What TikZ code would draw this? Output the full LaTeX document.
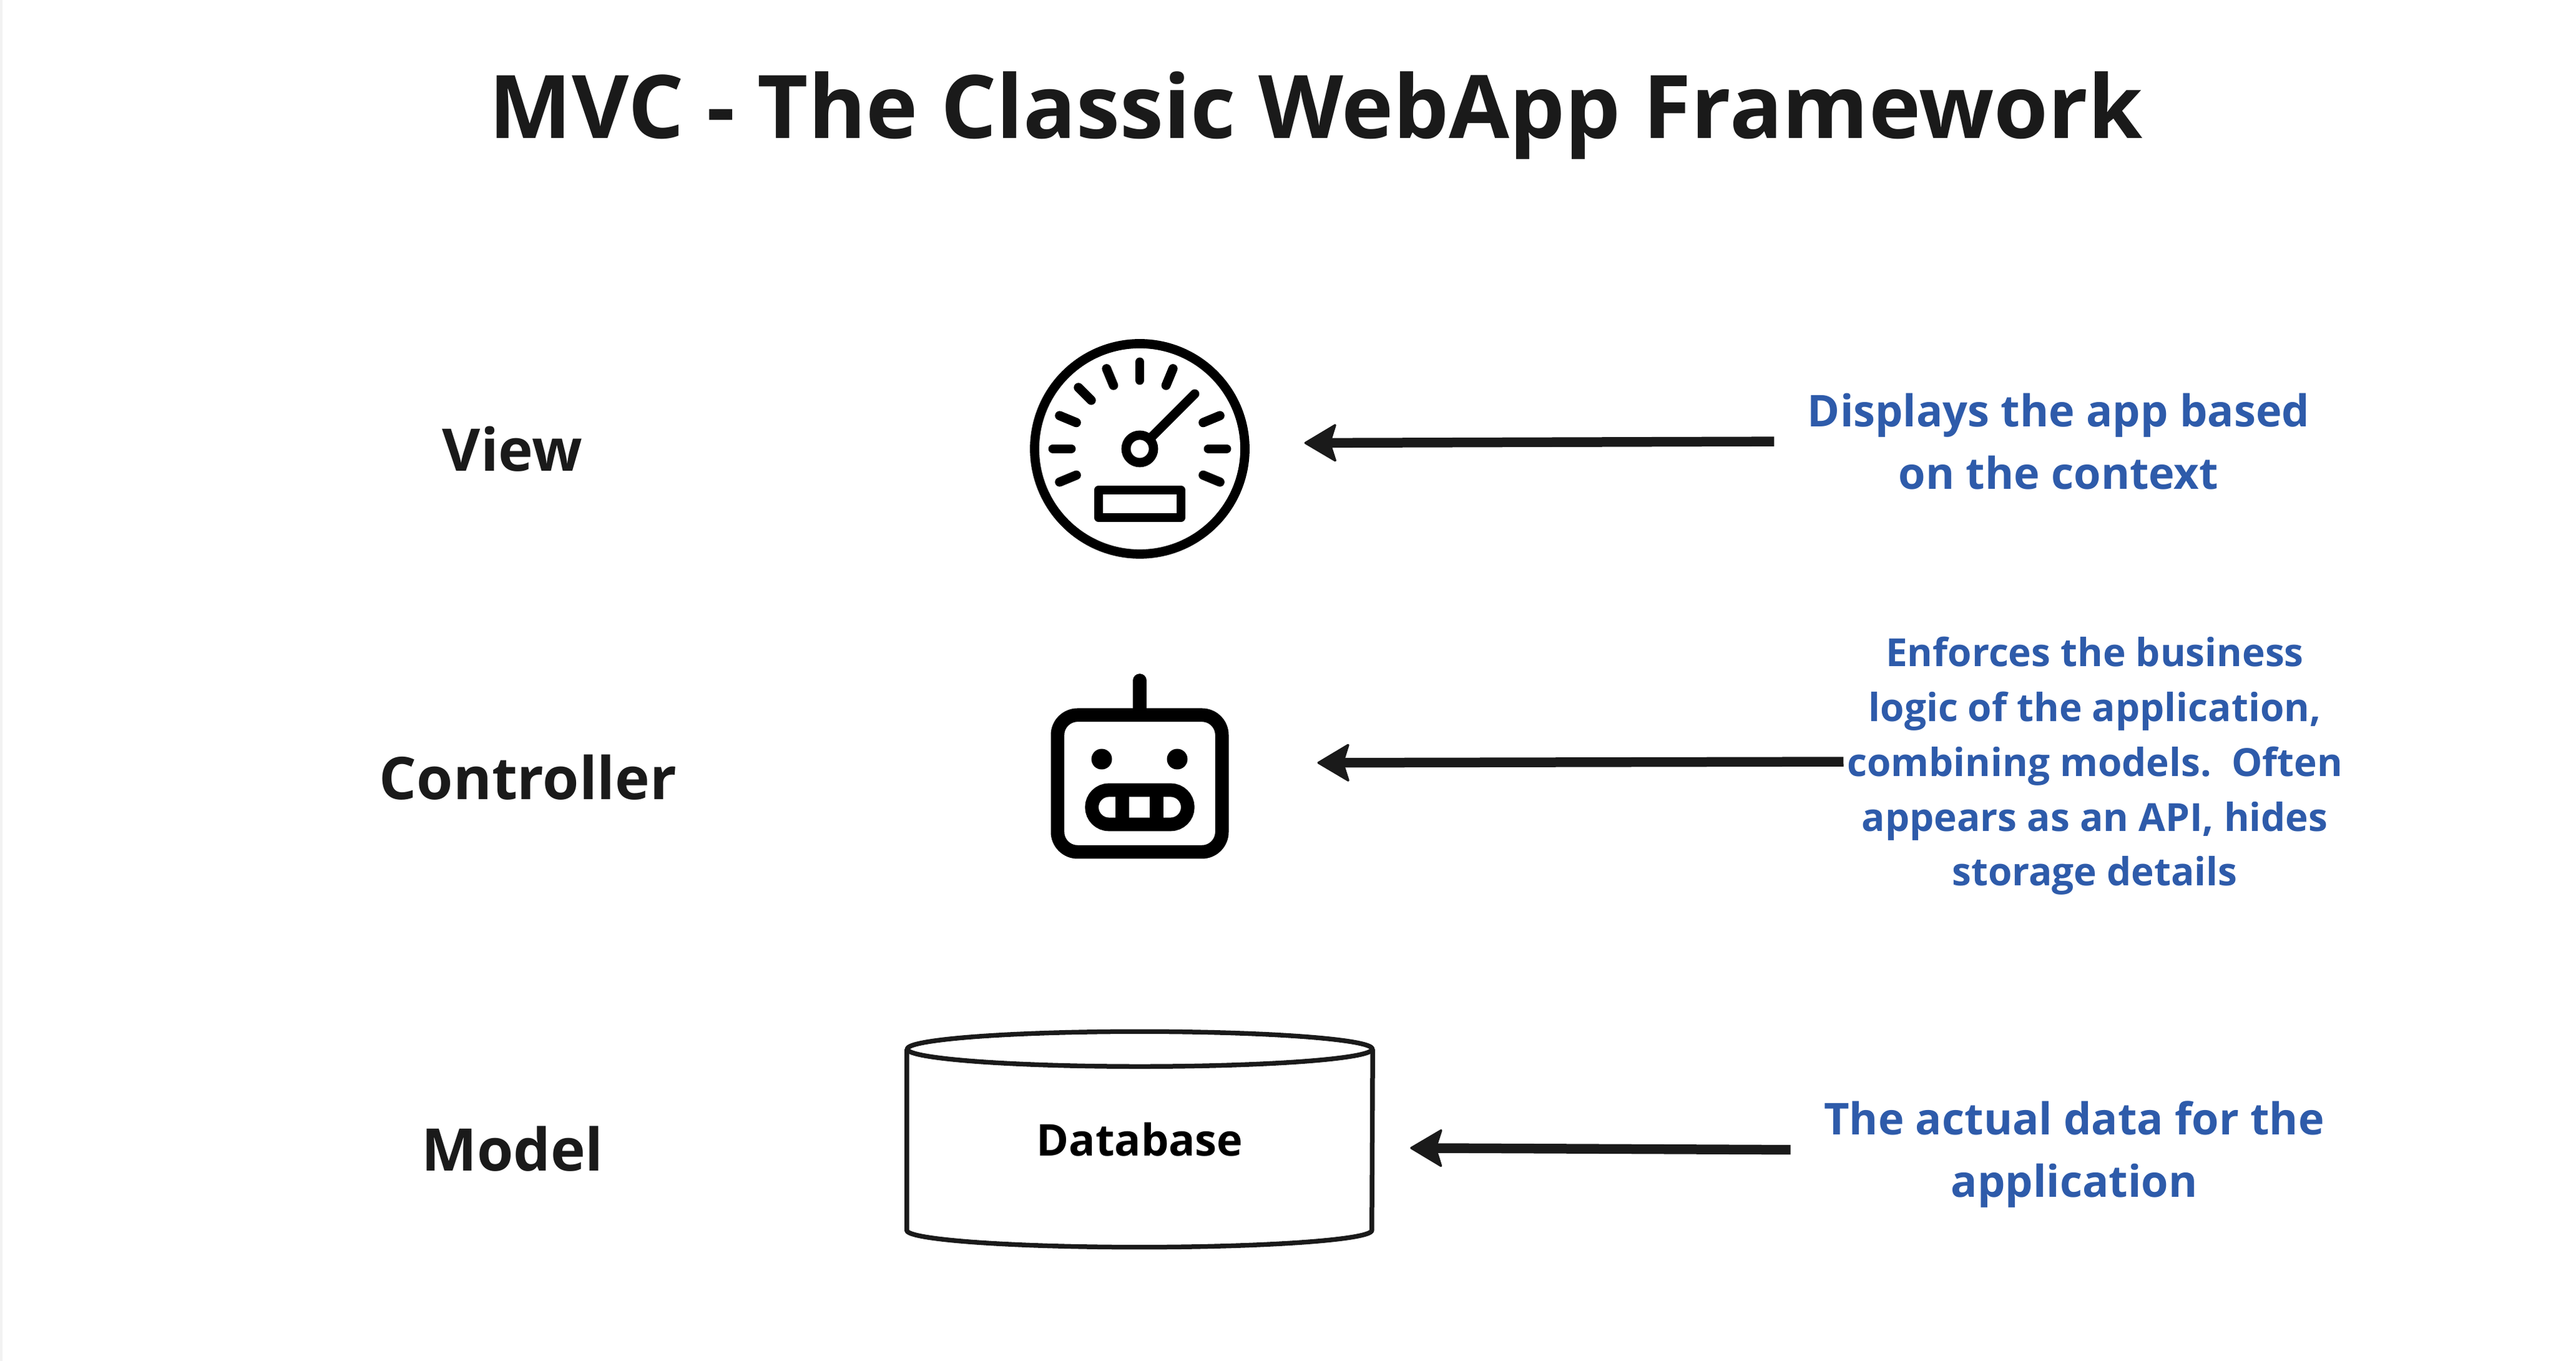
\documentclass[tikz,border=0pt]{standalone}
\usepackage{fontspec}
\setmainfont{Open Sans}
\usetikzlibrary{arrows.meta}
\definecolor{inkblack}{HTML}{1A1A1A}
\definecolor{noteblue}{HTML}{2E5BAA}
\definecolor{edgegrey}{HTML}{F2F2F2}
\begin{document}
\begin{tikzpicture}[
    title/.style={font=\bfseries\fontsize{40}{48}\selectfont, text=inkblack, inner sep=0},
    layer/.style={font=\bfseries\fontsize{26.8}{32}\selectfont, text=inkblack, inner sep=0},
    note/.style={font=\bfseries\fontsize{20}{28.4}\selectfont, text=noteblue, align=center, inner sep=0},
    smallnote/.style={font=\bfseries\fontsize{17.65}{25}\selectfont, text=noteblue, align=center, inner sep=0},
    link/.style={-{Stealth[length=0.54cm, width=0.64cm, inset=0.1cm, line width=1pt, round]}, line width=0.155cm, draw=inkblack},
    gaugeline/.style={draw=black, line width=0.148cm, line cap=round, line join=round},
    robotline/.style={draw=black, line width=0.217cm, line cap=round},
    dbline/.style={draw=inkblack, line width=0.075cm, line join=round}
]
    \useasboundingbox (0, 0) rectangle (41.27, 21.80);
    \fill[edgegrey] (0, 0) rectangle (0.045, 21.80);

    \node[title] at (21.08, 19.95) (heading) {MVC - The Classic WebApp Framework};

    \node[layer] at (8.21, 14.61) (viewlabel) {View};
    \node[layer] at (8.46, 9.35) (controllerlabel) {Controller};
    \node[layer] at (8.21, 3.40) (modellabel) {Model};

    \node[gaugeline, circle, minimum size=3.37cm, inner sep=0] at (18.26, 14.61) (gauge) {};
    \foreach \a in {-22.5, 0, 22.5, 67.5, 90, 112.5, 135, 157.5, 180, 202.5}
        \draw[gaugeline] (gauge.center) ++(\a:1.10) -- ++(\a:0.29);
    \draw[gaugeline] (gauge.center) ++(45:0.22) -- ++(45:1.025);
    \draw[gaugeline] (gauge.center) circle (0.22);
    \draw[gaugeline] (17.6, 13.95) rectangle (18.92, 13.51);

    \node[robotline, rectangle, rounded corners=0.32cm, minimum width=2.633cm, minimum height=2.193cm, inner sep=0] at (18.26, 9.25) (robot) {};
    \draw[robotline] (robot.north) -- ++(0, 0.445);
    \fill (17.65, 9.64) circle (0.165);
    \fill (18.86, 9.64) circle (0.165);
    \node[robotline, rectangle, rounded corners=0.275cm, minimum width=1.537cm, minimum height=0.55cm, inner sep=0] at (18.26, 8.87) (mouth) {};
    \draw[robotline, line cap=butt] (17.98, 8.595) -- (17.98, 9.145);
    \draw[robotline, line cap=butt] (18.53, 8.595) -- (18.53, 9.145);

    \node[font=\bfseries\fontsize{20}{24}\selectfont, text=black, minimum width=7.45cm, minimum height=2.89cm, inner sep=0] at (18.26, 3.545) (database) {Database};
    \draw[dbline] (database.north west) -- (database.south west) arc[x radius=3.725, y radius=0.27, start angle=180, end angle=360] -- (database.north east);
    \draw[dbline] (database.north) ellipse (3.725 and 0.28);

    \node[note] at (32.98, 14.73) (viewnote) {Displays the app based\\on the context};
    \node[smallnote] at (33.56, 9.53) (controllernote) {Enforces the business\\logic of the application,\\combining models.\ \ Often\\appears as an API, hides\\storage details};
    \node[note] at (33.23, 3.31) (modelnote) {The actual data for the\\application};

    \draw[link, shorten >=0.88cm, shorten <=0.53cm] (viewnote.west) -- (gauge.3);
    \draw[link, shorten >=1.42cm, shorten <=0.05cm] (controllernote.179) -- (robot.13.5);
    \draw[link, shorten >=0.6cm, shorten <=0.53cm] (modelnote.179.15) -- (database.-2.5);
\end{tikzpicture}
\end{document}
